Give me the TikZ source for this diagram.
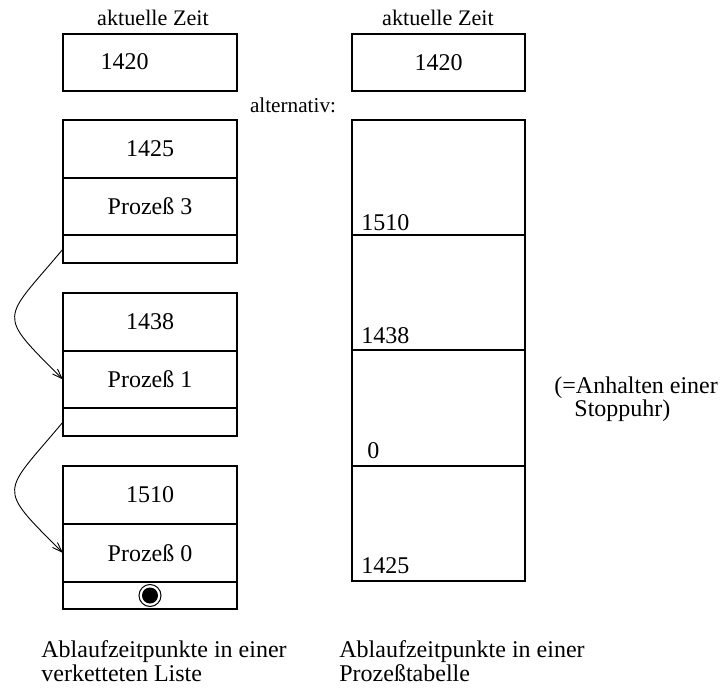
\documentclass[tikz,border=0pt]{standalone}
\usepackage{fontspec}
\setmainfont{Liberation Serif}
\usetikzlibrary{arrows.meta}
\begin{document}
\begin{tikzpicture}[x=0.5pt,y=-0.5pt,
  txt/.style={font=\fontsize{12}{14}\selectfont, inner sep=0pt},
  head/.style={font=\fontsize{11.1}{13}\selectfont, inner sep=0pt},
  cell/.style={draw, line width=0.6pt, inner sep=0pt, outer sep=0pt, minimum width=87pt, font=\fontsize{12}{14}\selectfont},
  rcell/.style={cell, minimum width=86.5pt},
  link/.style={line width=0.45pt, -{Straight Barb[length=5pt,width=3.5pt,line width=0.45pt]}}
]
\useasboundingbox (0,0) rectangle (723,690);

% headings
\node[head, anchor=base] (hl) at (153,26) {aktuelle Zeit};
\node[head, anchor=base] (hr) at (438,26) {aktuelle Zeit};
\node[head, font=\fontsize{10.6}{12}\selectfont, anchor=base] (alt) at (293,113) {alternativ:};

% left: current time
\node[cell, minimum height=28.5pt] (lnow) at (150,62.5) {};
\node[txt, anchor=base] (lnowt) at (124.5,70) {1420};

% left: linked list
\node[cell, minimum height=29pt]   (t1)   at (150,149)   {1425};
\node[cell, minimum height=28.5pt] (p3)   at (150,206.5) {Prozeß 3};
\node[cell, minimum height=14pt]   (ptr3) at (150,249)   {};

\node[cell, minimum height=29pt]   (t2)   at (150,322)   {1438};
\node[cell, minimum height=28.5pt] (p1)   at (150,379.5) {Prozeß 1};
\node[cell, minimum height=14pt]   (ptr1) at (150,422)   {};

\node[cell, minimum height=29pt]   (t3)   at (150,495)   {1510};
\node[cell, minimum height=29pt]   (p0)   at (150,553)   {Prozeß 0};
\node[cell, minimum height=13.5pt] (ptr0) at (150,595.5) {};

% nil marker
\node[draw, circle, line width=0.5pt, minimum size=11pt, inner sep=0pt] (nilo) at (ptr0.center) {};
\node[fill=black, circle, minimum size=8pt, inner sep=0pt] (nili) at (ptr0.center) {};

% links
\draw[link] (ptr3.west) .. controls +(-61,73) and +(-67.5,-67.5) .. (p1.west);
\draw[link] (ptr1.west) .. controls +(-61,73) and +(-67.5,-67.5) .. (p0.west);

% right: current time
\node[rcell, minimum height=28.5pt] (rnow) at (438.5,62.5) {1420};

% right: process table
\node[rcell, minimum height=57.5pt] (r1) at (438.5,177.5) {};
\node[rcell, minimum height=57.5pt] (r2) at (438.5,292.5) {};
\node[rcell, minimum height=58pt]   (r3) at (438.5,408)   {};
\node[rcell, minimum height=57.5pt] (r4) at (438.5,523.5) {};

\node[txt, anchor=base west] (v1) at ([xshift=4.5pt,yshift=2.5pt]r1.south west) {1510};
\node[txt, anchor=base west] (v2) at ([xshift=4.5pt,yshift=3.5pt]r2.south west) {1438};
\node[txt, anchor=base west] (v3) at ([xshift=7.5pt,yshift=4pt]r3.south west) {0};
\node[txt, anchor=base west] (v4) at ([xshift=4.5pt,yshift=4pt]r4.south west) {1425};

% side note
\node[txt, anchor=base west] (n1) at (554,393) {(=Anhalten einer};
\node[txt, anchor=base west] (n2) at (574,416) {Stoppuhr)};

% captions
\node[txt, anchor=base west] (c1a) at (41,657) {Ablaufzeitpunkte in einer};
\node[txt, anchor=base west] (c1b) at (41,681) {verketteten Liste};
\node[txt, anchor=base west] (c2a) at (339,657) {Ablaufzeitpunkte in einer};
\node[txt, anchor=base west] (c2b) at (339,681) {Prozeßtabelle};
\end{tikzpicture}
\end{document}
